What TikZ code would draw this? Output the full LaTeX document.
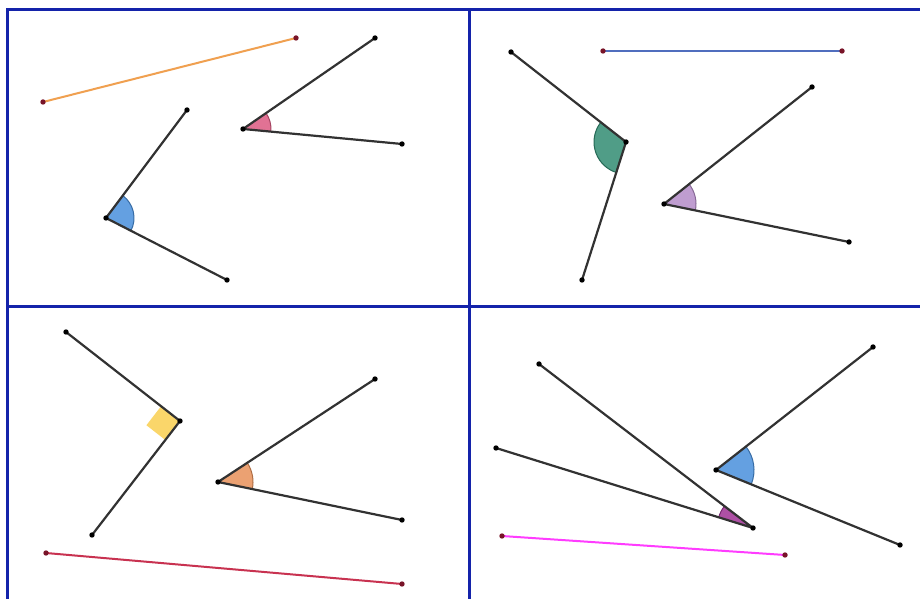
\documentclass[tikz,border=0pt]{standalone}
\usetikzlibrary{angles,calc}
\definecolor{frameblue}{RGB}{20,35,170}
\definecolor{raygray}{RGB}{50,50,50}
\definecolor{dotred}{RGB}{120,20,40}
\definecolor{segorange}{RGB}{240,160,80}
\definecolor{segblue}{RGB}{80,110,190}
\definecolor{segred}{RGB}{200,50,80}
\definecolor{segmag}{RGB}{255,60,255}
\definecolor{angblue}{RGB}{74,144,220}
\definecolor{angpink}{RGB}{220,90,130}
\definecolor{anggreen}{RGB}{50,140,115}
\definecolor{angpurple}{RGB}{180,140,200}
\definecolor{angyellow}{RGB}{250,210,90}
\definecolor{angorange}{RGB}{232,145,90}
\definecolor{angmag}{RGB}{160,50,150}
\tikzset{
  frameline/.style={draw=frameblue,line width=3pt},
  raystyle/.style={draw=raygray,line width=2.2pt,line cap=round,line join=round},
  segstyle/.style={line width=2pt,line cap=round},
  raydot/.style={fill=black},
  segdot/.style={fill=dotred},
  angsector/.style={fill=#1,fill opacity=0.85,draw=#1!75!black,line width=1pt},
}
\newcommand{\mydot}[2]{\fill[#1] (#2) circle (2.7pt);}
\begin{document}
\begin{tikzpicture}[x=1pt,y=1pt]
\useasboundingbox (0,0) rectangle (920,599);
\fill[white] (0,0) rectangle (920,599);
\begin{scope}
\clip (0,0) rectangle (920,599);
\draw[frameline] (7.5,-5) -- (7.5,589.5) -- (925,589.5);
\draw[frameline] (469,-5) -- (469,589.5);
\draw[frameline] (7.5,292) -- (925,292);
\end{scope}
% coordinates
\coordinate (O1a) at (43,497); \coordinate (O1b) at (296,561);
\coordinate (V1) at (106,381); \coordinate (A1) at (187,489); \coordinate (B1) at (227,319);
\coordinate (V2) at (243,470); \coordinate (A2) at (375,561); \coordinate (B2) at (402,455);
\coordinate (S2a) at (603,548); \coordinate (S2b) at (842,548);
\coordinate (V3) at (626,457); \coordinate (A3) at (511,547); \coordinate (B3) at (582,319);
\coordinate (V4) at (664,395); \coordinate (A4) at (812,512); \coordinate (B4) at (849,357);
\coordinate (V5) at (180,178); \coordinate (A5) at (66,267); \coordinate (B5) at (92,64);
\coordinate (V6) at (218,117); \coordinate (A6) at (375,220); \coordinate (B6) at (402,79);
\coordinate (S3a) at (46,46); \coordinate (S3b) at (402,15);
\coordinate (V7) at (753,71); \coordinate (A7) at (539,235); \coordinate (B7) at (496,151);
\coordinate (V8) at (716,129); \coordinate (A8) at (873,252); \coordinate (B8) at (900,54);
\coordinate (S4a) at (502,63); \coordinate (S4b) at (785,44);
% angle sectors
\pic[angsector=angblue,angle radius=28pt] {angle=B1--V1--A1};
\pic[angsector=angpink,angle radius=28pt] {angle=B2--V2--A2};
\pic[angsector=anggreen,angle radius=32pt] {angle=A3--V3--B3};
\pic[angsector=angpurple,angle radius=32pt] {angle=B4--V4--A4};
\pic[angsector=angorange,angle radius=35pt] {angle=B6--V6--A6};
\pic[angsector=angmag,angle radius=36pt] {angle=A7--V7--B7};
\pic[angsector=angblue,angle radius=38pt] {angle=B8--V8--A8};
\coordinate (Q1) at ($(V5)!24pt!(A5)$);
\coordinate (Q2) at ($(V5)!24pt!(B5)$);
\fill[angyellow,fill opacity=0.9] (V5) -- (Q1) -- ($(Q1)+(Q2)-(V5)$) -- (Q2) -- cycle;
% segments
\draw[segstyle,segorange] (O1a) -- (O1b);
\draw[segstyle,segblue] (S2a) -- (S2b);
\draw[segstyle,segred] (S3a) -- (S3b);
\draw[segstyle,segmag] (S4a) -- (S4b);
% rays
\draw[raystyle] (A1) -- (V1) -- (B1);
\draw[raystyle] (A2) -- (V2) -- (B2);
\draw[raystyle] (A3) -- (V3) -- (B3);
\draw[raystyle] (A4) -- (V4) -- (B4);
\draw[raystyle] (A5) -- (V5) -- (B5);
\draw[raystyle] (A6) -- (V6) -- (B6);
\draw[raystyle] (A7) -- (V7) -- (B7);
\draw[raystyle] (A8) -- (V8) -- (B8);
% dots
\foreach \p in {V1,A1,B1,V2,A2,B2,V3,A3,B3,V4,A4,B4,V5,A5,B5,V6,A6,B6,V7,A7,B7,V8,A8,B8}
  {\mydot{raydot}{\p}}
\foreach \p in {O1a,O1b,S2a,S2b,S3a,S3b,S4a,S4b}
  {\mydot{segdot}{\p}}
\end{tikzpicture}
\end{document}
